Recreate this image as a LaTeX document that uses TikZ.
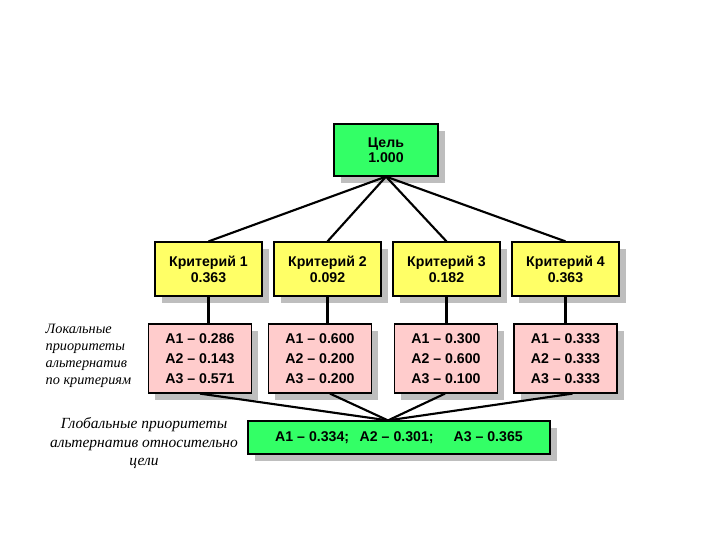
\documentclass[tikz,border=0pt]{standalone}
\usepackage{fontspec}
\setmainfont{Liberation Serif}
\setsansfont{Liberation Sans}
\usetikzlibrary{
  shadows,
  calc
}
\definecolor{ahpGoal}{HTML}{33FF66}
\definecolor{ahpCrit}{HTML}{FFFF66}
\definecolor{ahpLocal}{HTML}{FFCCCC}
\definecolor{ahpShade}{HTML}{BEBEBE}

\tikzset{
  ahpbox/.style={draw=black, line width=0.9pt, align=center, inner sep=0pt,
    drop shadow={shadow xshift=5.2pt, shadow yshift=-5.2pt, fill=ahpShade, opacity=1}},
  ahpline/.style={line width=1.6pt},
  ahpnote/.style={font=\itshape\fontsize{10.7}{12.8}\selectfont}
}

\begin{document}
\begin{tikzpicture}[x=0.75pt, y=-0.75pt]
  \useasboundingbox (0,0) rectangle (720,540);

  % goal
  \node[ahpbox, fill=ahpGoal, minimum width=78pt, minimum height=39pt,
    font=\sffamily\bfseries\fontsize{10.6}{11.5}\selectfont] (goal) at (386,150) {Цель\\1.000};

  % criteria and local priorities
  \foreach \i/\x/\lx/\w/\a/\b/\c/\d in {1/208.5/200/0.363/0.286/0.143/0.571/0, 2/327.5/320/0.092/0.600/0.200/0.200/10, 3/446.5/446/0.182/0.300/0.600/0.100/-1, 4/565.5/565.5/0.363/0.333/0.333/0.333/7}{
    \node[ahpbox, fill=ahpCrit, minimum width=80.25pt, minimum height=40.5pt,
      font=\sffamily\bfseries\fontsize{10.6}{12}\selectfont] (crit\i) at (\x,269) {Критерий \i\\\w};
    \node[ahpbox, fill=ahpLocal, minimum width=77.25pt, minimum height=51.75pt,
      font=\sffamily\bfseries\fontsize{10.6}{15}\selectfont] (loc\i) at (\lx,358.5) {A1 – \a\\A2 – \b\\A3 – \c};
    \coordinate (out\i) at ($(loc\i.south)+(\d,0)$);
  }

  % global priorities
  \node[ahpbox, fill=ahpGoal, minimum width=226.5pt, minimum height=24.75pt,
    font=\sffamily\bfseries\fontsize{10.6}{12}\selectfont] (glob) at (399,437.5)
    {A1 – 0.334;\hspace{8pt}A2 – 0.301;\hspace{15pt}A3 – 0.365};
  \coordinate (meet) at ($(glob.north)+(-11,0)$);

  % connectors
  \foreach \i in {1,...,4}{
    \draw[ahpline] (goal.south) -- (crit\i.north);
    \draw[ahpline] (crit\i.south) -- (crit\i.south |- loc\i.north);
    \draw[ahpline] (out\i) -- (meet);
  }

  % notes
  \node[ahpnote, anchor=west, align=left] (locnote) at (41,356)
    {Локальные\\приоритеты\\альтернатив\\по критериям};
  \node[ahpnote, align=center, font=\itshape\fontsize{11.6}{13.9}\selectfont] (globnote) at (144,443)
    {Глобальные приоритеты\\альтернатив относительно\\цели};
\end{tikzpicture}
\end{document}
